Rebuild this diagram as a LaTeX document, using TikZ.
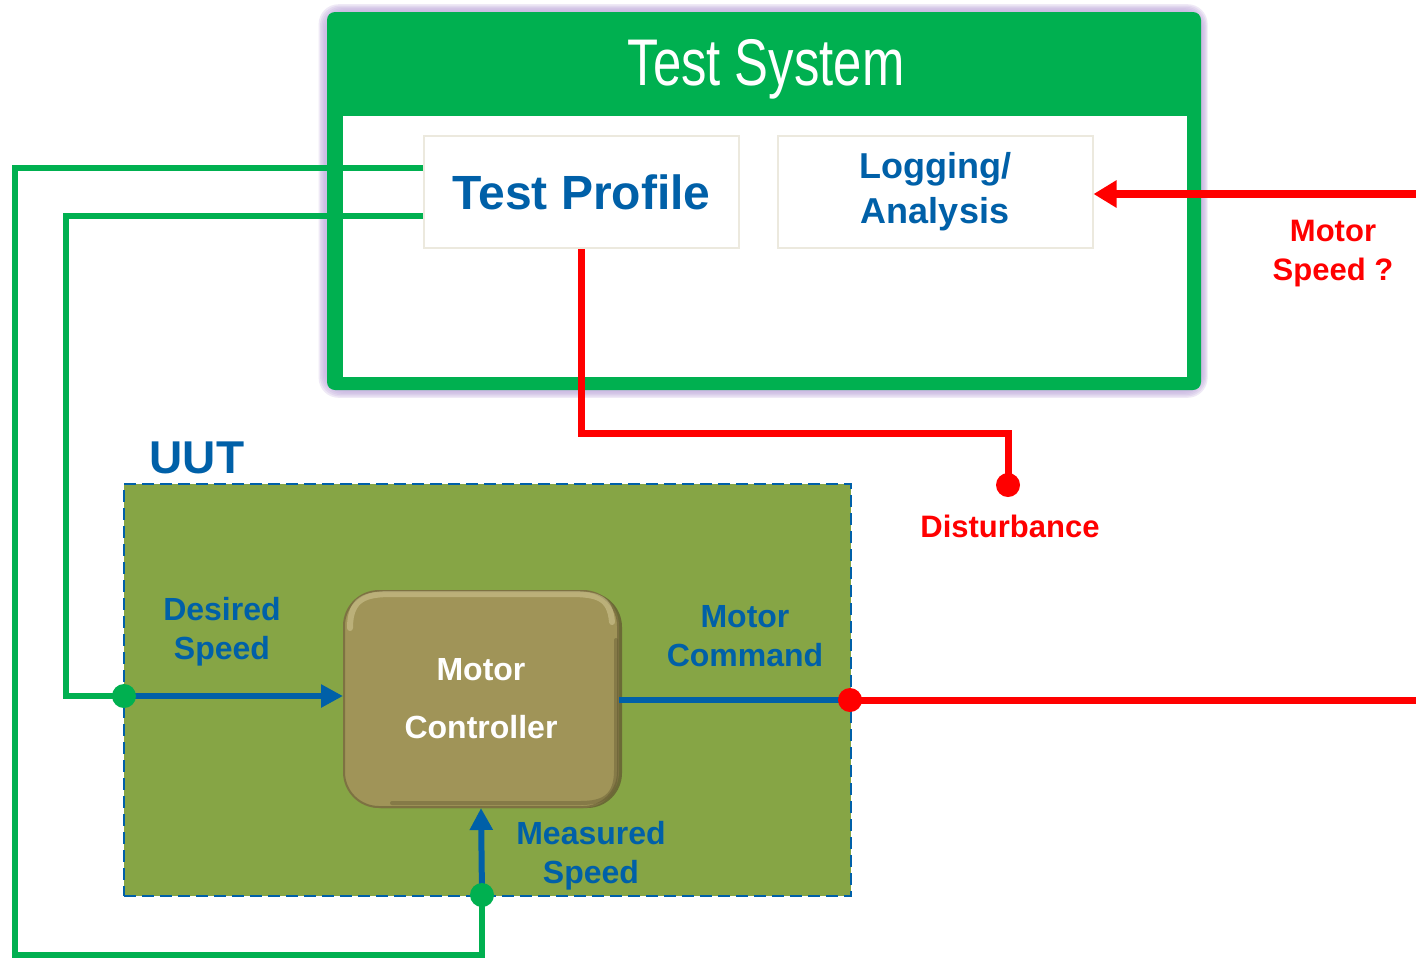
\documentclass[tikz,border=0pt]{standalone}
\usepackage{fontspec}
\setmainfont{Liberation Sans}
\newfontfamily\narrowfont[FakeStretch=0.77]{Liberation Sans}
\usetikzlibrary{arrows.meta,calc}
\definecolor{tsgreen}{HTML}{00B050}
\definecolor{tsblue}{HTML}{0060A8}
\definecolor{tsred}{HTML}{FF0000}
\definecolor{uutgreen}{HTML}{86A545}
\definecolor{ctrlc}{HTML}{A09458}
\definecolor{ctrldark}{HTML}{655C33}
\definecolor{ctrllight}{HTML}{DCD3A2}
\definecolor{glow}{HTML}{C6B2E0}
\definecolor{boxedge}{HTML}{ECE9DE}
\begin{document}
\begin{tikzpicture}[x=0.5pt,y=-0.5pt,
  lbl/.style={font=\fontsize{16}{19.5}\selectfont\bfseries, align=center, inner sep=0pt},
  bluelbl/.style={lbl, text=tsblue},
  redlbl/.style={lbl, text=tsred, font=\fontsize{15.5}{19.5}\selectfont\bfseries},
  innerbox/.style={draw=boxedge, line width=1pt, fill=white, minimum width=157.5pt, minimum height=56pt, inner sep=0pt, align=center},
  gline/.style={draw=tsgreen, line width=3pt},
  bline/.style={draw=tsblue, line width=3pt},
  rline/.style={draw=tsred, line width=3.5pt},
  gdot/.style={circle, fill=tsgreen, minimum size=12pt, inner sep=0pt},
  rdot/.style={circle, fill=tsred, minimum size=12pt, inner sep=0pt},
  tip/.style={-{Triangle[length=11pt,width=11pt]}}
]
\useasboundingbox (0,0) rectangle (1416,960);
\fill[white] (0,0) rectangle (1416,960);

% glow around the test system
\foreach \g in {1,2,3,4,5,6}{
  \fill[glow, opacity=0.28, rounded corners=10pt] ($(327,12)+(-1.4*\g,-1.3*\g)$) rectangle ($(1201,390)+(1.1*\g,1.3*\g)$);
}
% test system frame
\node[fill=tsgreen, rounded corners=4pt, minimum width=437pt, minimum height=189pt, inner sep=0pt] (ts) at (764,201) {};
\fill[white] (343,116) rectangle (1187,377);
\node[text=white, font=\narrowfont\fontsize{33}{33}\selectfont, anchor=base, inner sep=0pt] (title) at (766,85) {Test System};

\node[innerbox, text=tsblue, font=\fontsize{24}{28}\selectfont\bfseries] (tp) at (581.5,192) {Test Profile};
\node[innerbox, text=tsblue, font=\fontsize{18}{22.5}\selectfont\bfseries] (log) at (935,192) {Logging/\\Analysis};

% UUT
\node[fill=uutgreen, draw=tsblue, line width=1pt, dash pattern=on 6pt off 3pt, minimum width=363.5pt, minimum height=206pt, inner sep=0pt] (uut) at (487.5,690) {};
\node[text=tsblue, font=\fontsize{23}{23}\selectfont\bfseries, inner sep=0pt] (uutl) at (197,458) {UUT};

% junction points
\coordinate (dsp) at (124,696);
\coordinate (msp) at (482,895);
\coordinate (mcp) at (850,700);
\coordinate (dip) at (1008,485);
\coordinate (c1) at (15,955);
\coordinate (c2) at (66,696);
\coordinate (c3) at (1008,433);
\coordinate (rend) at (1416,700);
\coordinate (msin) at (1416,194);

% controller
\fill[ctrldark, opacity=0.8, rounded corners=17.5pt] (346,592) rectangle (622,808);
\node[fill=ctrlc, draw=ctrldark!60!ctrlc, line width=1pt, rounded corners=17.5pt, minimum width=137pt, minimum height=108pt, inner sep=0pt, text=white, font=\fontsize{16}{29}\selectfont\bfseries, align=center] (ctrl) at (481,699) {Motor\\Controller};
\draw[ctrllight, line width=3pt, line cap=round, opacity=0.45] (350,628) .. controls (350,598) and (366,594) .. (392,594) -- (570,594) .. controls (598,594) and (610,598) .. (612,622);
\draw[ctrldark, line width=2pt, line cap=round, opacity=0.45] (616,640) -- (616,770) .. controls (616,796) and (604,803) .. (580,803) -- (392,803);

% connectors
\draw[gline] ([yshift=12pt]tp.west) -| (c1) -| (msp);
\draw[gline] ([yshift=-12pt]tp.west) -| (c2) -- (dsp);
\draw[bline, tip] (dsp) -- (ctrl.west |- dsp);
\draw[bline, tip] (msp) -- (ctrl.south);
\draw[bline] (ctrl.east |- mcp) -- (mcp);
\draw[rline] (mcp) -- (rend);
\draw[rline] (tp.south) |- (c3) -- (dip);
\draw[draw=tsred, line width=4pt, -{Triangle[length=11.5pt,width=13pt]}] (msin) -- (log.east |- msin);

% dots
\node[gdot] (ds) at (dsp) {};
\node[gdot] (ms) at (msp) {};
\node[rdot] (mc) at (mcp) {};
\node[rdot] (di) at (dip) {};

% labels
\node[bluelbl] (dsl) at (222,632) {Desired\\Speed};
\node[bluelbl] (mcl) at (745,636) {Motor\\Command};
\node[bluelbl] (msl) at (591,856) {Measured\\Speed};
\node[redlbl] (disl) at (1010,526) {Disturbance};
\node[redlbl] (msl2) at (1333,254) {Motor\\Speed ?};
\end{tikzpicture}
\end{document}
